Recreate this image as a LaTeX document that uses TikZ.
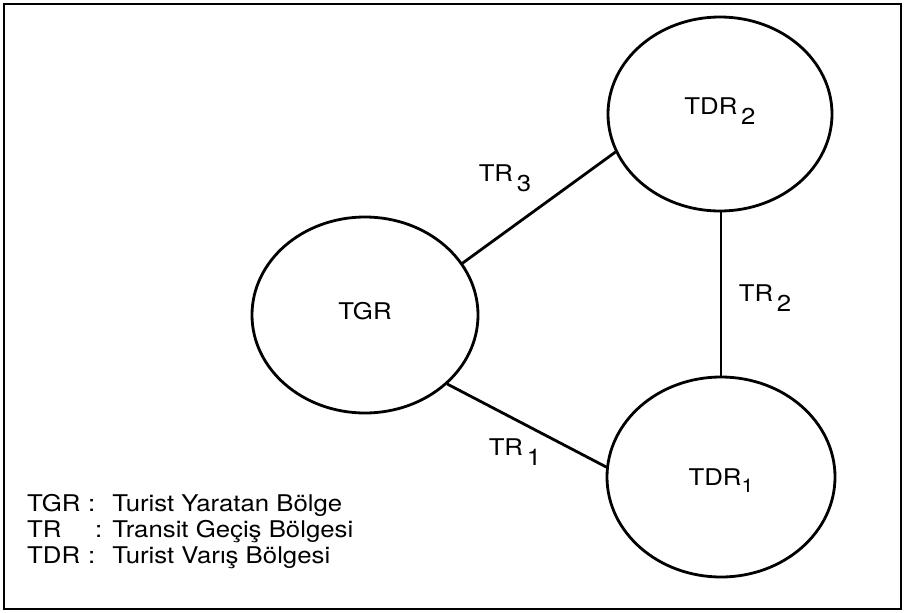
\documentclass[tikz,border=0pt]{standalone}
\usepackage{fontspec}
\setmainfont[FakeStretch=1.12]{TeX Gyre Heros}
\usetikzlibrary{shapes.geometric}
% lowered index written after an abbreviation, e.g. TR 3
\newcommand{\lowidx}[2][-0.45em]{\raisebox{#1}{#2}}
% lift a label inside its region without changing the node size
\newcommand{\liftlbl}[2]{\raisebox{#1}[0.75em][0pt]{#2}}
\begin{document}
\begin{tikzpicture}[x=1pt,y=-1pt,
  region/.style={ellipse, draw, line width=2.8pt, inner sep=0pt},
  link/.style={line width=2.8pt},
  lbl/.style={font=\fontsize{23}{27}\selectfont, inner sep=0pt},
  legline/.style={lbl, anchor=base west}]
\useasboundingbox (0,0) rectangle (905,613);
% outer frame
\draw[line width=2.6pt] (4,4) rectangle (901,609);

% regions
\node[region, lbl, minimum width=226pt, minimum height=196pt] (tgr) at (365,315) {\liftlbl{4pt}{TGR}};
\node[region, lbl, minimum width=224pt, minimum height=194pt] (tdr2) at (720,114) {\liftlbl{8pt}{TDR\lowidx{\,2}}};
\node[region, lbl, minimum width=228pt, minimum height=200pt] (tdr1) at (721,477) {\liftlbl{0pt}{TDR\lowidx[-0.3em]{\fontsize{19}{22}\selectfont 1}}};

% transit routes
\draw[link] (tgr.28) -- (tdr2.200);
\draw[link] (tdr1.north) -- (tdr1.north |- tdr2.south);
\draw[link] (tgr.-40) -- (tdr1.175);

\node[lbl] (tr3) at (505,178) {TR\lowidx{\,3}};
\node[lbl] (tr2) at (765,298) {TR\lowidx{\,2}};
\node[lbl] (tr1) at (515,452) {TR\lowidx{\,1}};

% legend
\node[legline] (leg1) at (27,511) {\makebox[61pt][l]{TGR}:\hspace{17pt}Turist Yaratan Bölge};
\node[legline] (leg2) at (27,537) {\makebox[68pt][l]{TR}:\hspace{10pt}Transit Geçiş Bölgesi};
\node[legline] (leg3) at (27,563) {\makebox[61pt][l]{TDR}:\hspace{17pt}Turist Varış Bölgesi};
\end{tikzpicture}
\end{document}
